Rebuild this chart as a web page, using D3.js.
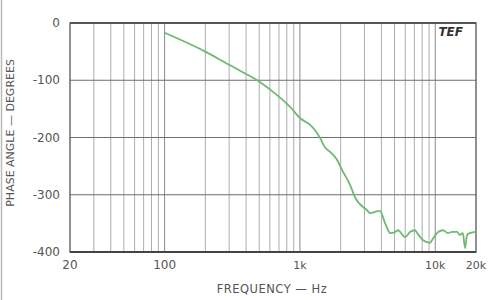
<!DOCTYPE html>
<html>
<head>
<meta charset="utf-8">
<script src="https://cdn.jsdelivr.net/npm/d3@7"></script>
<style>
  body { margin: 0; background: #fff; }
  text { font-family: 'DejaVu Sans', sans-serif; fill: #555; }
</style>
</head>
<body>
<div id="chart"></div>
<script>
// phase response
const freqs = [100, 200, 300, 400, 500, 600, 850, 1000, 1190, 1290, 1410, 1530, 1670, 1880, 2050, 2350, 2550, 3130, 3300, 3600, 3900, 4250, 4650, 5050, 5300, 6000, 6500, 7100, 7350, 8100, 9150, 9650, 10500, 11400, 12400, 13300, 14500, 15200, 16000, 16600, 17200, 18000, 20000]
const phases = [-17, -50, -73, -89, -102, -116, -147, -166, -178, -187, -201, -217, -225, -239, -257, -283, -304, -327, -332, -330, -328, -349, -367, -365, -362, -374, -365, -362, -367, -379, -384, -376, -365, -362, -367, -365, -365, -370, -367, -393, -370, -367, -365]

const yTicks = [0, -100, -200, -300, -400]
const xLabels = [[20, '20'], [100, '100'], [1000, '1k'], [10000, '10k'], [20000, '20k']]

// grid lines at 30..90, 100..900, 1k..10k
const gridFreqs = []
;[10, 100, 1000].forEach(dec => {
  for (let i = 1; i <= 9; i++) {
    const f = dec * i
    if (f > 20) gridFreqs.push(f)
  }
})
gridFreqs.push(10000)

const margin = { top: 23, right: 13, bottom: 48, left: 70 }
const width = 489 - margin.left - margin.right
const height = 300 - margin.top - margin.bottom

const root = d3.select('#chart')
  .append('svg')
  .attr('width', 489)
  .attr('height', 300)

// scan edge on the left
root.append('line')
  .attr('x1', 1.5).attr('x2', 1.5).attr('y1', 0).attr('y2', 300)
  .attr('stroke', '#bbb').attr('stroke-width', 1.5)

const svg = root.append('g')
  .attr('transform', 'translate(' + margin.left + ',' + margin.top + ')')

const x = d3.scaleLog().domain([20, 20000]).range([0, width])
const y = d3.scaleLinear().domain([0, -400]).range([0, height])

svg.selectAll('.vgrid')
  .data(gridFreqs)
  .enter()
  .append('line')
  .attr('class', 'vgrid')
  .attr('x1', d => x(d)).attr('x2', d => x(d))
  .attr('y1', 0).attr('y2', height)
  .attr('stroke', '#8a8a8a')
  .attr('stroke-width', d => (d === 100 || d === 1000 || d === 10000) ? 1 : 0.7)

svg.selectAll('.hgrid')
  .data(yTicks.slice(1, -1))
  .enter()
  .append('line')
  .attr('class', 'hgrid')
  .attr('x1', 0).attr('x2', width)
  .attr('y1', d => y(d)).attr('y2', d => y(d))
  .attr('stroke', '#6e6e6e')
  .attr('stroke-width', 1)

// frame
svg.append('rect')
  .attr('width', width).attr('height', height)
  .attr('fill', 'none')
  .attr('stroke', '#555')
  .attr('stroke-width', 1.3)
svg.append('line')
  .attr('x1', 0).attr('x2', width).attr('y1', height).attr('y2', height)
  .attr('stroke', '#444').attr('stroke-width', 2)
svg.append('line')
  .attr('x1', 0).attr('x2', width).attr('y1', 0).attr('y2', 0)
  .attr('stroke', '#555').attr('stroke-width', 1.8)

const data = freqs.map((f, i) => ({ f: f, p: phases[i] }))

const line = d3.line()
  .x(d => x(d.f))
  .y(d => y(d.p))
  .curve(d3.curveMonotoneX)

svg.append('path')
  .datum(data)
  .attr('d', line)
  .attr('fill', 'none')
  .attr('stroke', '#6fba72')
  .attr('stroke-width', 1.8)
  .attr('stroke-linejoin', 'round')

svg.selectAll('.ylab')
  .data(yTicks)
  .enter()
  .append('text')
  .attr('class', 'ylab')
  .attr('x', -10)
  .attr('y', d => y(d))
  .attr('dy', '0.35em')
  .attr('text-anchor', 'end')
  .attr('font-size', 12)
  .text(d => d === 0 ? '0' : '-' + Math.abs(d))

svg.selectAll('.xlab')
  .data(xLabels)
  .enter()
  .append('text')
  .attr('class', 'xlab')
  .attr('x', d => x(d[0]))
  .attr('y', height + 17)
  .attr('text-anchor', 'middle')
  .attr('font-size', d => d[1].indexOf('k') > -1 ? 11 : 12)
  .text(d => d[1])

svg.append('text')
  .attr('x', x(1000) - 28)
  .attr('y', height + 41)
  .attr('text-anchor', 'middle')
  .attr('font-size', 11.5)
  .attr('letter-spacing', 0.5)
  .text('FREQUENCY — Hz')

svg.append('text')
  .attr('transform', 'translate(' + (-56) + ',' + (y(-192)) + ') rotate(-90)')
  .attr('text-anchor', 'middle')
  .attr('font-size', 11)
  .text('PHASE ANGLE — DEGREES')

svg.append('text')
  .attr('x', width - 13)
  .attr('y', 13)
  .attr('text-anchor', 'end')
  .attr('font-size', 12)
  .attr('font-weight', 'bold')
  .attr('font-style', 'italic')
  .style('fill', '#333')
  .text('TEF')
</script>
</body>
</html>
